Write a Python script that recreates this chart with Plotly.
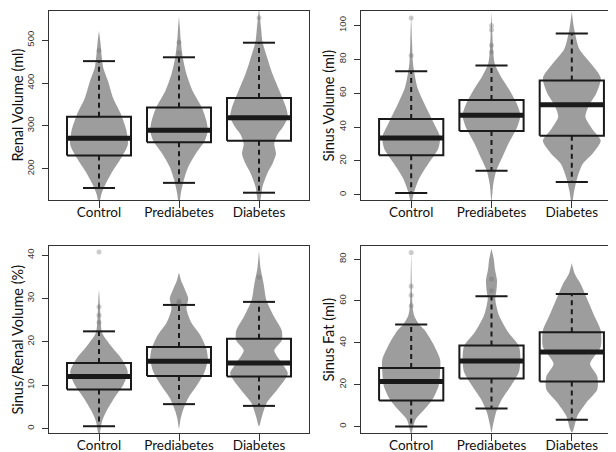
import plotly.graph_objects as go

categories = ["Control", "Prediabetes", "Diabetes"]

# ---------------- Renal Volume (ml) ----------------
renal_q1 = [231, 262, 265]
renal_med = [271, 290, 319]
renal_q3 = [321, 343, 365]
renal_lo = [155, 167, 144]
renal_hi = [451, 460, 494]
renal_out = [[476], [495, 470], [552]]
renal_vy = [
    [118, 140, 163, 194, 225, 256, 287, 326, 365, 405, 435, 465, 495, 522],
    [110, 141, 172, 204, 235, 266, 289, 312, 343, 382, 421, 460, 500, 530, 556],
    [115, 127, 158, 189, 212, 235, 258, 281, 296, 320, 343, 382, 421, 458, 497, 530, 575],
]
renal_vw = [
    [0, 0.08, 0.22, 0.47, 0.77, 1.0, 0.96, 0.77, 0.49, 0.31, 0.15, 0.09, 0.05, 0],
    [0, 0.06, 0.16, 0.32, 0.58, 0.9, 1.0, 0.95, 0.79, 0.47, 0.26, 0.13, 0.06, 0.03, 0],
    [0, 0.05, 0.12, 0.29, 0.47, 0.59, 0.53, 0.65, 0.82, 1.0, 0.94, 0.71, 0.47, 0.29, 0.12, 0.07, 0],
]

# ---------------- Sinus Volume (ml) ----------------
sinus_q1 = [23.3, 37.6, 34.9]
sinus_med = [33.5, 46.9, 53.2]
sinus_q3 = [44.7, 56.0, 67.4]
sinus_lo = [1.0, 14.2, 7.5]
sinus_hi = [72.9, 76.3, 95.2]
sinus_out = [[104.4, 82.2], [100, 97.5, 88.3, 84.3], []]
sinus_vy = [
    [-8, -4, 2, 10, 18, 27, 34, 42, 55, 63, 70, 78, 90, 107],
    [-4, 6, 14, 22, 30, 40, 47, 55, 63, 70, 77, 84, 95, 108],
    [-6, 2, 10, 18, 25, 32, 39, 46, 53, 60, 69, 77, 86, 98, 108],
]
sinus_vw = [
    [0, 0.03, 0.11, 0.29, 0.58, 0.93, 1.0, 0.79, 0.42, 0.22, 0.13, 0.06, 0.03, 0],
    [0, 0.06, 0.16, 0.37, 0.58, 0.89, 1.0, 0.84, 0.58, 0.32, 0.12, 0.06, 0.03, 0],
    [0, 0.08, 0.19, 0.37, 0.75, 1.0, 0.7, 0.47, 0.6, 0.85, 1.0, 0.68, 0.26, 0.08, 0],
]

# ---------------- Sinus/Renal Volume (%) ----------------
ratio_q1 = [9.0, 12.1, 12.0]
ratio_med = [12.0, 15.5, 15.1]
ratio_q3 = [15.1, 18.8, 20.7]
ratio_lo = [0.5, 5.6, 5.2]
ratio_hi = [22.4, 28.5, 29.2]
ratio_out = [[40.7, 28.1, 26.1, 24.5], [29.4, 28.9], [34.9]]
ratio_vy = [
    [-2, 1.5, 4, 7, 10, 13, 16, 19, 22, 24.5, 27, 30, 32],
    [0, 2, 4, 7, 10, 13, 16, 18.4, 21.5, 24.5, 27.6, 30, 32, 34, 36],
    [0.5, 2.7, 5.8, 8.9, 12.7, 15, 18, 20.3, 22.6, 25.7, 29.5, 33.4, 37.2, 41],
]
ratio_vw = [
    [0, 0.1, 0.26, 0.53, 0.84, 1.0, 0.79, 0.42, 0.11, 0.06, 0.04, 0.02, 0],
    [0, 0.05, 0.13, 0.32, 0.63, 0.89, 1.0, 0.95, 0.74, 0.42, 0.26, 0.32, 0.21, 0.08, 0],
    [0, 0.1, 0.26, 0.63, 1.0, 0.8, 0.53, 0.79, 0.79, 0.53, 0.26, 0.16, 0.05, 0],
]

# ---------------- Sinus Fat (ml) ----------------
fat_q1 = [12.4, 22.9, 21.5]
fat_med = [21.5, 31.3, 35.6]
fat_q3 = [28.0, 38.7, 45.0]
fat_lo = [0.0, 8.6, 3.2]
fat_hi = [48.7, 62.3, 63.3]
fat_out = [[83.2, 67.0, 62.8, 57.7], [70.5, 64.9], []]
fat_vy = [
    [-4, -1.3, 3.5, 8.3, 13, 19.5, 26, 32, 40, 46, 49, 53, 57, 62, 68, 84],
    [-3, 0.5, 6.8, 13.2, 19.6, 26, 32, 38.4, 45, 53, 61, 65, 70, 75, 80, 85],
    [-3, -1.4, 5, 11.3, 17.6, 24, 30, 38, 46, 52, 60, 68, 73, 78],
]
fat_vw = [
    [0, 0.05, 0.16, 0.47, 0.74, 0.95, 1.0, 1.0, 0.74, 0.47, 0.26, 0.1, 0.05, 0.03, 0.02, 0],
    [0, 0.05, 0.16, 0.37, 0.68, 0.95, 1.0, 0.95, 0.58, 0.26, 0.13, 0.17, 0.19, 0.12, 0.08, 0],
    [0, 0.06, 0.19, 0.5, 0.88, 0.88, 0.63, 1.0, 1.0, 0.81, 0.56, 0.31, 0.1, 0],
]

titles = ["Renal Volume (ml)", "Sinus Volume (ml)", "Sinus/Renal Volume (%)", "Sinus Fat (ml)"]
y_ranges = [[127, 568], [-3.1, 108.5], [-1.06, 42.1], [-3.15, 86.3]]
y_ticks = [[200, 300, 400, 500], [0, 20, 40, 60, 80, 100], [0, 10, 20, 30, 40], [0, 20, 40, 60, 80]]

panels = [
    dict(q1=renal_q1, med=renal_med, q3=renal_q3, lo=renal_lo, hi=renal_hi, out=renal_out, vy=renal_vy, vw=renal_vw),
    dict(q1=sinus_q1, med=sinus_med, q3=sinus_q3, lo=sinus_lo, hi=sinus_hi, out=sinus_out, vy=sinus_vy, vw=sinus_vw),
    dict(q1=ratio_q1, med=ratio_med, q3=ratio_q3, lo=ratio_lo, hi=ratio_hi, out=ratio_out, vy=ratio_vy, vw=ratio_vw),
    dict(q1=fat_q1, med=fat_med, q3=fat_q3, lo=fat_lo, hi=fat_hi, out=fat_out, vy=fat_vy, vw=fat_vw),
]

W, H = 616, 452
x_dom = [[41 / W, 301 / W], [353 / W, 614 / W]]
y_dom = [[1 - 192 / H, 1 - 3 / H], [1 - 425 / H, 1 - 238 / H]]
title_x = [9.0, 320.0]

VIOLIN_HALF = 0.36
BOX_HALF = 0.4
CAP_HALF = 0.2

fig = go.Figure()
for p_idx, p in enumerate(panels):
    xa = "x" if p_idx == 0 else f"x{p_idx + 1}"
    ya = "y" if p_idx == 0 else f"y{p_idx + 1}"
    for g in range(3):
        pos = g + 1
        vy = p["vy"][g]
        vw = p["vw"][g]
        xs = [pos + w * VIOLIN_HALF for w in vw] + [pos - w * VIOLIN_HALF for w in vw[::-1]]
        ys = list(vy) + list(vy[::-1])
        fig.add_trace(go.Scatter(x=xs, y=ys, mode="lines", fill="toself", fillcolor="#9d9d9d",
                                 line=dict(width=0, color="#9d9d9d", shape="spline", smoothing=0.7),
                                 xaxis=xa, yaxis=ya, hoverinfo="skip", showlegend=False))
    wx, wy, cx, cy, bx, by, mx, my, ox, oy = [], [], [], [], [], [], [], [], [], []
    for g in range(3):
        pos = g + 1
        wx += [pos, pos, None, pos, pos, None]
        wy += [p["q3"][g], p["hi"][g], None, p["q1"][g], p["lo"][g], None]
        cx += [pos - CAP_HALF, pos + CAP_HALF, None, pos - CAP_HALF, pos + CAP_HALF, None]
        cy += [p["hi"][g], p["hi"][g], None, p["lo"][g], p["lo"][g], None]
        bx += [pos - BOX_HALF, pos + BOX_HALF, pos + BOX_HALF, pos - BOX_HALF, pos - BOX_HALF, None]
        by += [p["q1"][g], p["q1"][g], p["q3"][g], p["q3"][g], p["q1"][g], None]
        mx += [pos - BOX_HALF, pos + BOX_HALF, None]
        my += [p["med"][g], p["med"][g], None]
        for o in p["out"][g]:
            ox.append(pos)
            oy.append(o)
    fig.add_trace(go.Scatter(x=wx, y=wy, mode="lines", line=dict(color="#1a1a1a", width=2, dash="5px,4px"),
                             xaxis=xa, yaxis=ya, hoverinfo="skip", showlegend=False))
    fig.add_trace(go.Scatter(x=cx, y=cy, mode="lines", line=dict(color="#1a1a1a", width=2),
                             xaxis=xa, yaxis=ya, hoverinfo="skip", showlegend=False))
    fig.add_trace(go.Scatter(x=bx, y=by, mode="lines", line=dict(color="#1a1a1a", width=2),
                             xaxis=xa, yaxis=ya, hoverinfo="skip", showlegend=False))
    fig.add_trace(go.Scatter(x=mx, y=my, mode="lines", line=dict(color="#1a1a1a", width=5),
                             xaxis=xa, yaxis=ya, hoverinfo="skip", showlegend=False))
    fig.add_trace(go.Scatter(x=ox, y=oy, mode="markers",
                             marker=dict(color="rgba(110,110,110,0.35)", size=5, line=dict(width=0)),
                             xaxis=xa, yaxis=ya, hoverinfo="skip", showlegend=False))

layout = dict(width=W, height=H, margin=dict(l=0, r=0, t=0, b=0),
              paper_bgcolor="white", plot_bgcolor="white", showlegend=False)
annotations = []
for p_idx in range(4):
    col = p_idx % 2
    row = p_idx // 2
    xk = "xaxis" if p_idx == 0 else f"xaxis{p_idx + 1}"
    yk = "yaxis" if p_idx == 0 else f"yaxis{p_idx + 1}"
    xa = "x" if p_idx == 0 else f"x{p_idx + 1}"
    ya = "y" if p_idx == 0 else f"y{p_idx + 1}"
    layout[xk] = dict(domain=x_dom[col], anchor=ya, range=[0.375, 3.625],
                      tickvals=[1, 2, 3], ticktext=categories, ticks="outside", ticklen=7,
                      tickcolor="#333", tickwidth=1, showline=True, mirror=True, linecolor="#333",
                      linewidth=1, showgrid=False, zeroline=False, ticklabelstandoff=-7,
                      tickfont=dict(family="Lato", size=13.5, color="#111"))
    layout[yk] = dict(domain=y_dom[row], anchor=xa, range=y_ranges[p_idx], tickvals=y_ticks[p_idx],
                      ticks="outside", ticklen=6, tickcolor="#333", tickwidth=1, tickangle=-90,
                      showline=True, mirror=True, linecolor="#333", linewidth=1, showgrid=False,
                      zeroline=False, ticklabelstandoff=4,
                      tickfont=dict(family="Liberation Sans", size=9.5, color="#333"))
    annotations.append(dict(text=titles[p_idx], xref="paper", yref=f"{ya} domain",
                            x=title_x[col] / W, y=0.5, xanchor="center", yanchor="middle", textangle=-90,
                            showarrow=False, font=dict(family="Lato", size=14.5, color="#111")))
layout["annotations"] = annotations
fig.update_layout(**layout)
fig.write_html("out.html")
